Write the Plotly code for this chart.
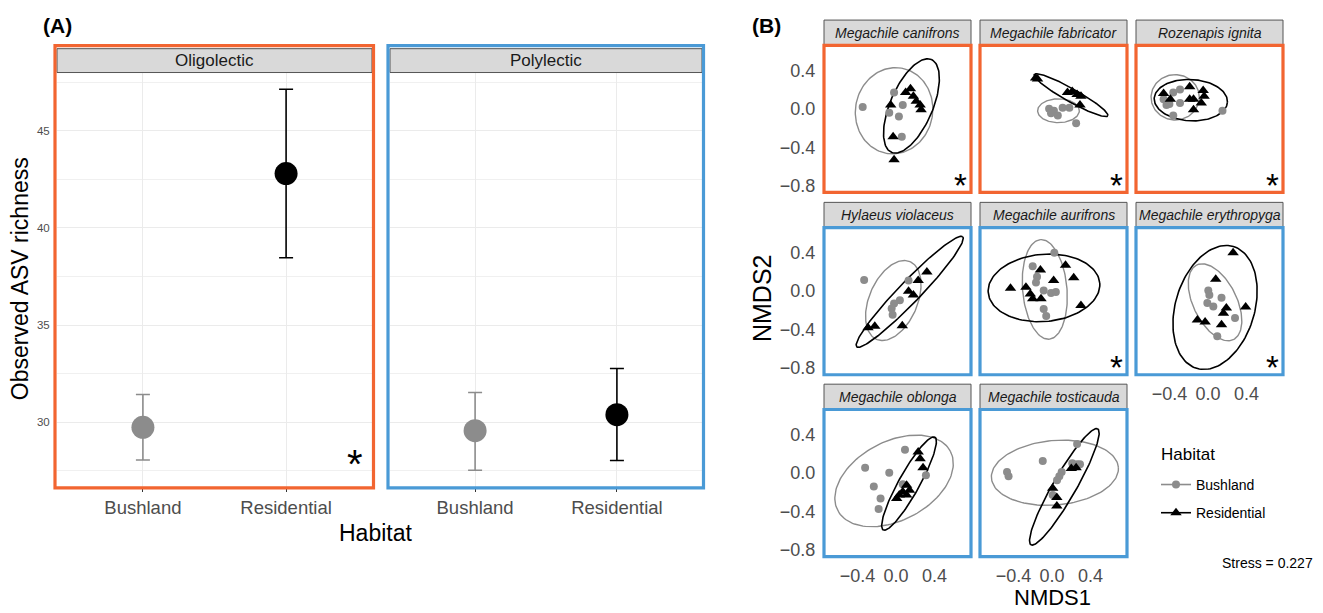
import numpy as np
import plotly.graph_objects as go

W, H = 1323, 613

# ---------------- Panel A data ----------------
habitats = ["Bushland", "Residential"]
oligo_mean = [29.74, 42.80]
oligo_upper = [31.43, 47.14]
oligo_lower = [28.06, 38.47]
poly_mean = [29.57, 30.39]
poly_upper = [31.53, 32.77]
poly_lower = [27.53, 28.03]
richness_ticks = [30, 35, 40, 45]
richness_minor = [27.5, 32.5, 37.5, 42.5, 47.5]
lecty_groups = ["Oligolectic", "Polylectic"]
lecty_sig = [True, False]

# ---------------- Panel B data ----------------
species = ["Megachile canifrons", "Megachile fabricator", "Rozenapis ignita",
           "Hylaeus violaceus", "Megachile aurifrons", "Megachile erythropyga",
           "Megachile oblonga", "Megachile tosticauda"]
species_lecty = ["Oligolectic", "Oligolectic", "Oligolectic",
                 "Polylectic", "Polylectic", "Polylectic", "Polylectic", "Polylectic"]
species_sig = [True, True, True, False, True, True, False, False]

canifrons_bush_x = [-0.345, -0.02, 0.07, -0.07, 0.03, 0.06]
canifrons_bush_y = [0.02, 0.17, 0.04, -0.04, -0.08, -0.29]
canifrons_res_x = [-0.055, 0.10, 0.15, 0.18, 0.21, 0.25, 0.26, -0.03, -0.02]
canifrons_res_y = [0.04, 0.17, 0.21, 0.13, 0.08, 0.04, -0.01, -0.29, -0.53]

fabricator_bush_x = [-0.03, 0.02, 0.06, 0.11, 0.18, 0.25, -0.01]
fabricator_bush_y = [0.00, -0.02, -0.07, 0.01, 0.01, -0.15, -0.047]
fabricator_res_x = [-0.17, -0.15, 0.16, 0.21, 0.26, 0.30, 0.29]
fabricator_res_y = [0.32, 0.31, 0.17, 0.18, 0.15, 0.13, 0.04]

ignita_bush_x = [-0.46, -0.43, -0.36, -0.29, -0.29, -0.36, 0.15, -0.40]
ignita_bush_y = [0.10, 0.04, 0.17, 0.20, 0.06, -0.07, -0.02, 0.05]
ignita_res_x = [-0.46, -0.39, -0.19, -0.19, -0.15, -0.05, -0.04, -0.07, -0.15]
ignita_res_y = [0.16, 0.10, 0.23, 0.10, 0.10, 0.19, 0.13, 0.06, -0.01]

violaceus_bush_x = [-0.33, 0.13, 0.04, -0.02, -0.045, -0.035]
violaceus_bush_y = [0.117, 0.11, -0.096, -0.13, -0.18, -0.245]
violaceus_res_x = [0.32, 0.23, 0.13, 0.18, -0.29, -0.22, 0.065]
violaceus_res_y = [0.20, 0.11, 0.00, -0.04, -0.38, -0.365, -0.36]

aurifrons_bush_x = [0.024, -0.20, -0.155, -0.166, -0.086, -0.01, 0.04, -0.086, -0.06]
aurifrons_bush_y = [0.40, 0.26, 0.15, 0.09, 0.007, -0.02, -0.01, -0.186, -0.26]
aurifrons_res_x = [-0.43, -0.27, -0.225, -0.20, -0.114, -0.12, 0.017, 0.14, 0.225, 0.30]
aurifrons_res_y = [0.03, 0.04, -0.03, -0.08, -0.08, 0.22, 0.11, 0.27, 0.14, -0.15]

erythropyga_bush_x = [0.003, 0.014, 0.14, -0.007, 0.055, 0.28, 0.096]
erythropyga_bush_y = [0.007, -0.04, -0.07, -0.124, -0.16, -0.28, -0.47]
erythropyga_res_x = [0.26, 0.08, 0.19, 0.16, 0.39, -0.11, -0.03, 0.14]
erythropyga_res_y = [0.40, 0.124, -0.176, -0.23, -0.165, -0.30, -0.32, -0.35]

oblonga_bush_x = [0.093, -0.32, -0.07, -0.23, -0.16, -0.18, 0.07, 0.31]
oblonga_bush_y = [0.24, 0.055, 0.003, -0.14, -0.265, -0.375, -0.117, -0.024]
oblonga_res_x = [0.23, 0.25, 0.28, 0.11, 0.14, 0.07, 0.034, 0.007, 0.11]
oblonga_res_y = [0.217, 0.148, 0.055, -0.127, -0.18, -0.196, -0.23, -0.265, -0.23]

tosticauda_bush_x = [-0.466, -0.45, -0.096, 0.26, 0.21, 0.26, 0.29, 0.10, 0.076, 0.052, 0.007]
tosticauda_bush_y = [0.01, -0.034, 0.124, 0.30, 0.10, 0.09, 0.09, 0.01, -0.034, -0.076, -0.23]
tosticauda_res_x = [0.007, 0.05, 0.05, 0.20, 0.25]
tosticauda_res_y = [-0.16, -0.255, -0.345, 0.045, 0.055]

# 95% ellipse parameters (centre, semi-axes, rotation in degrees), species order
ell_bush_cx = [-0.02, 0.067, -0.34, -0.028, -0.075, 0.073, -0.02, 0.03]
ell_bush_cy = [-0.02, -0.02, 0.12, -0.098, 0.018, -0.116, -0.083, 0.002]
ell_bush_a = [0.45, 0.216, 0.25, 0.44, 0.52, 0.432, 0.66, 0.66]
ell_bush_b = [0.40, 0.124, 0.236, 0.25, 0.23, 0.225, 0.41, 0.336]
ell_bush_ang = [80, 0, 0, 66.9, 95, 116.1, 28, 5]
ell_res_cx = [0.16, 0.197, -0.178, 0.142, -0.083, 0.073, 0.135, 0.128]
ell_res_cy = [0.03, 0.142, 0.09, -0.007, 0.034, -0.17, -0.11, -0.145]
ell_res_a = [0.525, 0.437, 0.38, 0.793, 0.58, 0.662, 0.552, 0.695]
ell_res_b = [0.22, 0.068, 0.215, 0.112, 0.35, 0.41, 0.108, 0.12]
ell_res_ang = [66.8, -29.5, -3, 46.2, 5, 73.3, 61, 60.2]

nmds_ticks = [-0.8, -0.4, 0.0, 0.4]
stress_value = 0.227

bush_pts = [(canifrons_bush_x, canifrons_bush_y), (fabricator_bush_x, fabricator_bush_y),
            (ignita_bush_x, ignita_bush_y), (violaceus_bush_x, violaceus_bush_y),
            (aurifrons_bush_x, aurifrons_bush_y), (erythropyga_bush_x, erythropyga_bush_y),
            (oblonga_bush_x, oblonga_bush_y), (tosticauda_bush_x, tosticauda_bush_y)]
res_pts = [(canifrons_res_x, canifrons_res_y), (fabricator_res_x, fabricator_res_y),
           (ignita_res_x, ignita_res_y), (violaceus_res_x, violaceus_res_y),
           (aurifrons_res_x, aurifrons_res_y), (erythropyga_res_x, erythropyga_res_y),
           (oblonga_res_x, oblonga_res_y), (tosticauda_res_x, tosticauda_res_y)]

# ---------------- styling ----------------
FONT = "Liberation Sans"
GREY = "#8C8C8C"
BLACK = "#000000"
ORANGE = "#F26531"
BLUE = "#4A9AD6"
TICKCOL = "#4D4D4D"
STRIP_FILL = "#D9D9D9"
STRIP_LINE = "#555555"
hab_col = [GREY, BLACK]
lecty_col = {"Oligolectic": ORANGE, "Polylectic": BLUE}
PT_SIZE = [8, 10]
PT_SYMBOL = ["circle", "triangle-up"]


def fx(x):
    return x / W


def fy(y):
    return 1 - y / H


def ellipse_path(cx, cy, a, b, ang, n=140):
    t = np.linspace(0, 2 * np.pi, n)
    th = np.deg2rad(ang)
    x = cx + a * np.cos(th) * np.cos(t) - b * np.sin(th) * np.sin(t)
    y = cy + a * np.sin(th) * np.cos(t) + b * np.cos(th) * np.sin(t)
    return x, y


fig = go.Figure()
lay = {}
shapes = []
annots = []

# ---------------- Panel A ----------------
A_top, A_bot = 73, 490
A_cols = [(57, 372), (390, 702)]
A_stats = [(oligo_mean, oligo_upper, oligo_lower), (poly_mean, poly_upper, poly_lower)]
for k, g in enumerate(lecty_groups):
    n = k + 1
    xa = "x" if n == 1 else f"x{n}"
    ya = "y" if n == 1 else f"y{n}"
    L, R = A_cols[k]
    mean, up, lo = A_stats[k]
    for j, h in enumerate(habitats):
        fig.add_trace(go.Scatter(
            x=[h], y=[mean[j]], xaxis=xa, yaxis=ya, mode="markers",
            marker=dict(size=23, color=hab_col[j]),
            error_y=dict(type="data", symmetric=False, array=[up[j] - mean[j]],
                         arrayminus=[mean[j] - lo[j]], color=hab_col[j],
                         thickness=1.6, width=7),
            showlegend=False, hoverinfo="skip"))
    lay["xaxis" if n == 1 else f"xaxis{n}"] = dict(
        domain=[fx(L), fx(R)], anchor=ya, type="category",
        categoryorder="array", categoryarray=habitats, range=[-0.6, 1.6],
        showgrid=True, gridcolor="#EBEBEB", gridwidth=1.2, zeroline=False,
        showline=False, ticks="outside", ticklen=4, tickcolor="#333333",
        tickfont=dict(size=18.5, color=TICKCOL, family=FONT))
    lay["yaxis" if n == 1 else f"yaxis{n}"] = dict(
        domain=[fy(A_bot), fy(A_top)], anchor=xa, range=[26.68, 48.0],
        tickvals=richness_ticks, showticklabels=(k == 0),
        showgrid=True, gridcolor="#EBEBEB", gridwidth=1.2, zeroline=False,
        showline=False, ticks="outside", ticklen=4, tickcolor="rgba(0,0,0,0)",
        tickfont=dict(size=11.5, color=TICKCOL, family=FONT),
        minor=dict(tickvals=richness_minor, showgrid=True, gridcolor="#F0F0F0",
                   gridwidth=0.8, ticks=""))
    # strip
    shapes.append(dict(type="rect", xref="paper", yref="paper",
                       x0=fx(L), x1=fx(R), y0=fy(A_top), y1=fy(49),
                       fillcolor=STRIP_FILL, line=dict(color=STRIP_LINE, width=1)))
    annots.append(dict(x=fx((L + R) / 2), y=fy(61), xref="paper", yref="paper",
                       text=g, showarrow=False, xanchor="center", yanchor="middle",
                       font=dict(size=17, color="#1A1A1A", family=FONT)))
    # coloured frame
    shapes.append(dict(type="rect", xref="paper", yref="paper",
                       x0=fx(L - 2), x1=fx(R + 1.5), y0=fy(A_bot + 1), y1=fy(46),
                       line=dict(color=lecty_col[g], width=3.2)))
    if lecty_sig[k]:
        annots.append(dict(x=fx(355), y=fy(467), xref="paper", yref="paper",
                           text="*", showarrow=False, xanchor="center", yanchor="middle",
                           font=dict(size=40, color="#000000", family=FONT)))

annots.append(dict(x=fx(20), y=fy(281), xref="paper", yref="paper",
                   text="Observed ASV richness", textangle=-90, showarrow=False,
                   xanchor="center", yanchor="middle",
                   font=dict(size=23, color="#000000", family=FONT)))
annots.append(dict(x=fx(376), y=fy(537), xref="paper", yref="paper",
                   text="Habitat", showarrow=False, xanchor="center", yanchor="middle",
                   font=dict(size=23, color="#000000", family=FONT)))
annots.append(dict(x=fx(41), y=fy(26), xref="paper", yref="paper",
                   text="<b>(A)</b>", showarrow=False, xanchor="left", yanchor="middle",
                   font=dict(size=21, color="#000000", family=FONT)))

# ---------------- Panel B ----------------
B_lefts = [824, 980, 1136]
B_tops = [45.7, 229.2, 412.2]
B_w, B_h = 147, 148
xr = [-0.746, 0.777]
yr = [-0.87, 0.66]
facet_pos = [(0, 0), (1, 0), (2, 0), (0, 1), (1, 1), (2, 1), (0, 2), (1, 2)]
xlab_facets = {5, 6, 7}
for i, sp in enumerate(species):
    n = 3 + i
    c, r = facet_pos[i]
    L, T = B_lefts[c], B_tops[r]
    xa, ya = f"x{n}", f"y{n}"
    bx, by = bush_pts[i]
    rx, ry = res_pts[i]
    ex, ey = ellipse_path(ell_bush_cx[i], ell_bush_cy[i], ell_bush_a[i], ell_bush_b[i], ell_bush_ang[i])
    fig.add_trace(go.Scatter(x=ex, y=ey, xaxis=xa, yaxis=ya, mode="lines",
                             line=dict(color=GREY, width=1.4), showlegend=False, hoverinfo="skip"))
    ex, ey = ellipse_path(ell_res_cx[i], ell_res_cy[i], ell_res_a[i], ell_res_b[i], ell_res_ang[i])
    fig.add_trace(go.Scatter(x=ex, y=ey, xaxis=xa, yaxis=ya, mode="lines",
                             line=dict(color=BLACK, width=1.6), showlegend=False, hoverinfo="skip"))
    fig.add_trace(go.Scatter(x=bx, y=by, xaxis=xa, yaxis=ya, mode="markers",
                             marker=dict(symbol=PT_SYMBOL[0], size=PT_SIZE[0], color=GREY),
                             showlegend=False, hoverinfo="skip"))
    fig.add_trace(go.Scatter(x=rx, y=ry, xaxis=xa, yaxis=ya, mode="markers",
                             marker=dict(symbol=PT_SYMBOL[1], size=PT_SIZE[1], color=BLACK),
                             showlegend=False, hoverinfo="skip"))
    lay[f"xaxis{n}"] = dict(
        domain=[fx(L), fx(L + B_w)], anchor=ya, range=xr,
        tickvals=[-0.4, 0.0, 0.4], ticktext=["\u22120.4", "0.0", "0.4"],
        showticklabels=(i in xlab_facets), showgrid=False, zeroline=False,
        showline=False, ticks="outside", ticklen=3, tickcolor="rgba(0,0,0,0)",
        tickfont=dict(size=18, color=TICKCOL, family=FONT))
    lay[f"yaxis{n}"] = dict(
        domain=[fy(T + B_h), fy(T)], anchor=xa, range=yr,
        tickvals=nmds_ticks,
        ticktext=[("\u2212" + f"{abs(v):.1f}") if v < 0 else f"{v:.1f}" for v in nmds_ticks],
        showticklabels=(c == 0), showgrid=False, zeroline=False,
        showline=False, ticks="outside", ticklen=4, tickcolor="rgba(0,0,0,0)",
        tickfont=dict(size=18, color=TICKCOL, family=FONT))
    # strip
    shapes.append(dict(type="rect", xref="paper", yref="paper",
                       x0=fx(L), x1=fx(L + B_w), y0=fy(T), y1=fy(T - 25.5),
                       fillcolor=STRIP_FILL, line=dict(color=STRIP_LINE, width=1)))
    annots.append(dict(x=fx(L + B_w / 2), y=fy(T - 12.5), xref="paper", yref="paper",
                       text=f"<i>{sp}</i>", showarrow=False, xanchor="center", yanchor="middle",
                       font=dict(size=14, color="#1A1A1A", family=FONT)))
    shapes.append(dict(type="rect", xref="paper", yref="paper",
                       x0=fx(L), x1=fx(L + B_w), y0=fy(T + B_h), y1=fy(T),
                       line=dict(color=lecty_col[species_lecty[i]], width=3.2)))
    if species_sig[i]:
        annots.append(dict(x=fx(L + B_w - 11), y=fy(T + B_h - 7), xref="paper", yref="paper",
                           text="*", showarrow=False, xanchor="center", yanchor="middle",
                           font=dict(size=33, color="#000000", family=FONT)))

annots.append(dict(x=fx(762), y=fy(300), xref="paper", yref="paper",
                   text="NMDS2", textangle=-90, showarrow=False,
                   xanchor="center", yanchor="middle",
                   font=dict(size=25, color="#000000", family=FONT)))
annots.append(dict(x=fx(1052), y=fy(587), xref="paper", yref="paper",
                   text="NMDS1", showarrow=False, xanchor="center", yanchor="top",
                   font=dict(size=22, color="#000000", family=FONT)))
annots.append(dict(x=fx(750), y=fy(26), xref="paper", yref="paper",
                   text="<b>(B)</b>", showarrow=False, xanchor="left", yanchor="middle",
                   font=dict(size=21, color="#000000", family=FONT)))
annots.append(dict(x=fx(1267), y=fy(567), xref="paper", yref="paper",
                   text=f"Stress = {stress_value}", showarrow=False,
                   xanchor="center", yanchor="middle",
                   font=dict(size=14, color="#000000", family=FONT)))
annots.append(dict(x=fx(1159), y=fy(457), xref="paper", yref="paper",
                   text="Habitat", showarrow=False, xanchor="left", yanchor="middle",
                   font=dict(size=17, color="#000000", family=FONT)))

# legend entries
for j, h in enumerate(habitats):
    fig.add_trace(go.Scatter(
        x=[None], y=[None], xaxis="x3", yaxis="y3", mode="lines+markers", name=h,
        legendgroup=h,
        marker=dict(symbol=PT_SYMBOL[j], size=PT_SIZE[j], color=hab_col[j]),
        line=dict(color=hab_col[j], width=1.6), showlegend=True))

fig.update_layout(
    width=W, height=H, margin=dict(l=0, r=0, t=0, b=0),
    plot_bgcolor="white", paper_bgcolor="white",
    font=dict(family=FONT, color="#000000"),
    shapes=shapes, annotations=annots,
    legend=dict(x=fx(1156), y=fy(472), xanchor="left", yanchor="top",
                bgcolor="rgba(0,0,0,0)", traceorder="grouped", tracegroupgap=7,
                font=dict(size=14, family=FONT), itemwidth=30),
    **lay)

fig.write_html("out.html", config={"displayModeBar": False},
               post_script="document.body.style.margin='0px';")
